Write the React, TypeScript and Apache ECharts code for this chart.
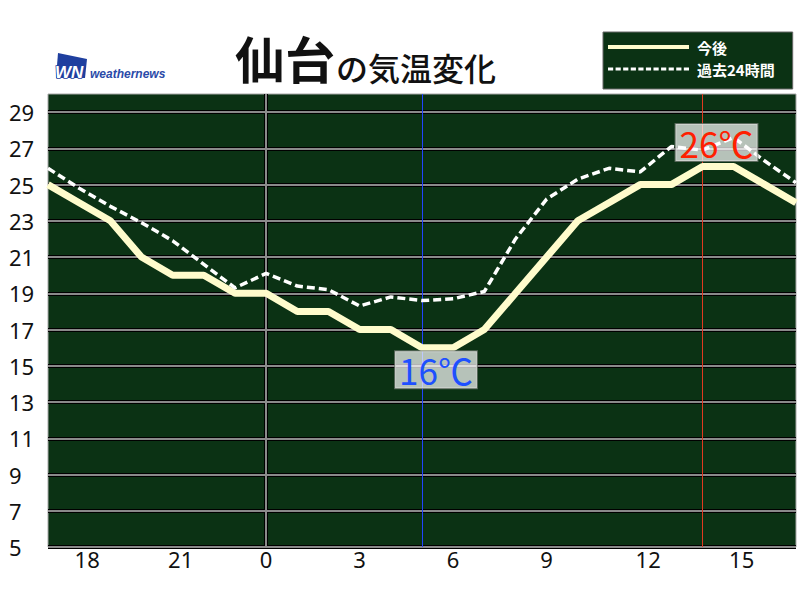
import React, { useEffect, useRef } from 'react';
import * as echarts from 'echarts';

// ---- data ----
const hours = ['17', '18', '19', '20', '21', '22', '23', '0', '1', '2', '3', '4', '5', '6', '7', '8', '9', '10', '11', '12', '13', '14', '15', '16', '17'];
const forecast = [25, 24, 23, 21, 20, 20, 19, 19, 18, 18, 17, 17, 16, 16, 17, 19, 21, 23, 24, 25, 25, 26, 26, 25, 24];
const past24 = [25.9, 24.8, 23.8, 22.9, 21.9, 20.6, 19.3, 20.1, 19.4, 19.2, 18.3, 18.8, 18.6, 18.7, 19.1, 22.0, 24.2, 25.3, 25.9, 25.7, 27.1, 26.9, 27.6, 26.3, 25.1];
const yTicks = [5, 7, 9, 11, 13, 15, 17, 19, 21, 23, 25, 27, 29];
const xLabelHours = ['18', '21', '0', '3', '6', '9', '12', '15'];
const dayBoundary = '0';
const seriesNames = ['今後', '過去24時間'];
const titleMain = '仙台';
const titleSub = 'の気温変化';
const unit = '℃';

const CJK = '"Noto Sans CJK JP", "Noto Sans", sans-serif';
const LATIN = '"Noto Sans", "DejaVu Sans", sans-serif';
const BG = '#0b3214';
const GRID_LINE = '#8a8a8a';
const SOLID = '#fffccc';
const DASH = '#ffffff';

function dashPath(): string {
  let d = '';
  for (let i = 0; i < 11; i++) {
    const x = i * 7.6;
    d += `M${x},0h5.2v3h-5.2z`;
  }
  return 'path://' + d;
}

export default function App() {
  const ref = useRef<HTMLDivElement>(null);

  useEffect(() => {
    if (!ref.current) return;
    const chart = echarts.init(ref.current, undefined, { renderer: 'svg' });

    const minVal = Math.min(...forecast);
    const maxVal = Math.max(...forecast);
    const minIdx = forecast.indexOf(minVal);
    const maxIdx = forecast.indexOf(maxVal);

    const markLabel = {
      show: true,
      position: 'inside',
      formatter: (p: any) => `${p.value}${unit}`,
      fontSize: 35,
      lineHeight: 35,
      fontFamily: CJK,
      backgroundColor: 'rgba(255,255,255,0.7)',
      borderColor: 'rgba(110,120,110,0.8)',
      borderWidth: 1,
      padding: [1, 4, 1, 4],
    };

    const yAxisBase = {
      type: 'value',
      min: 5,
      max: 30,
      axisLine: { show: false },
      axisTick: { show: false, customValues: yTicks },
    };

    const option: any = {
      animation: false,
      backgroundColor: '#ffffff',
      grid: {
        left: 48,
        right: 4,
        top: 94,
        bottom: 53,
        show: true,
        backgroundColor: BG,
        borderColor: '#a8a8a8',
        borderWidth: 1,
        containLabel: false,
      },
      legend: {
        left: 603,
        top: 32,
        orient: 'vertical',
        selectedMode: false,
        backgroundColor: BG,
        borderColor: '#666',
        borderWidth: 1,
        padding: [7, 18, 12, 5],
        itemWidth: 81,
        itemHeight: 16,
        itemGap: 6,
        textStyle: {
          color: '#ffffff',
          fontSize: 15,
          lineHeight: 16,
          fontWeight: 'bold',
          fontFamily: CJK,
          padding: [0, 0, 0, 3],
        },
        data: [
          { name: seriesNames[0], icon: 'path://M0,0h81v4h-81z', itemStyle: { color: SOLID, borderWidth: 0 } },
          { name: seriesNames[1], icon: dashPath(), itemStyle: { color: DASH, borderWidth: 0 } },
        ],
      },
      xAxis: [
        {
          type: 'category',
          data: hours,
          boundaryGap: false,
          z: 1,
          axisLine: { show: false },
          axisTick: { show: false },
          axisLabel: {
            interval: (_i: number, v: string) => xLabelHours.includes(v),
            margin: 1,
            formatter: (v: string) => (v.length > 1 ? `{s|\u00a0}{v|${v}}` : `{v|${v}}`),
            rich: {
              s: { width: 16, fontSize: 22 },
              v: { fontSize: 22, color: '#111', fontFamily: LATIN },
            },
          },
          splitLine: {
            show: true,
            interval: (_i: number, v: string) => v === dayBoundary,
            lineStyle: { color: GRID_LINE, width: 2 },
          },
        },
        {
          type: 'category',
          data: hours,
          boundaryGap: false,
          position: 'bottom',
          z: 0,
          axisLine: { show: false },
          axisTick: { show: false },
          axisLabel: { show: false },
          splitLine: {
            show: true,
            interval: (_i: number, v: string) => v === dayBoundary,
            lineStyle: { color: '#000000', width: 4 },
          },
        },
      ],
      yAxis: [
        {
          ...yAxisBase,
          z: 1,
          axisLabel: {
            customValues: yTicks,
            align: 'left',
            margin: 39,
            fontSize: 22,
            color: '#111',
            fontFamily: LATIN,
          },
          splitLine: { show: true, lineStyle: { color: GRID_LINE, width: 2 } },
        },
        {
          ...yAxisBase,
          z: 0,
          position: 'left',
          axisLabel: { show: false },
          splitLine: { show: true, lineStyle: { color: '#000000', width: 4 } },
        },
      ],
      series: [
        {
          name: seriesNames[0],
          type: 'line',
          data: forecast,
          xAxisIndex: 0,
          yAxisIndex: 0,
          symbol: 'none',
          color: SOLID,
          itemStyle: { color: SOLID },
          lineStyle: { color: SOLID, width: 7 },
          emphasis: { disabled: true },
          markLine: {
            silent: true,
            symbol: ['none', 'none'],
            z: 1,
            label: { show: false },
            emphasis: { disabled: true },
            data: [
              { xAxis: minIdx, lineStyle: { color: '#2244ff', width: 1, type: 'solid' } },
              { xAxis: maxIdx, lineStyle: { color: '#e03a20', width: 1, type: 'solid' } },
            ],
          },
          markPoint: {
            silent: true,
            symbol: 'circle',
            symbolSize: 0,
            data: [
              { coord: [minIdx, minVal], value: minVal, label: { ...markLabel, color: '#1e50ff', offset: [14, 22] } },
              { coord: [maxIdx, maxVal], value: maxVal, label: { ...markLabel, color: '#ff2000', offset: [14, -24] } },
            ],
          },
        },
        {
          name: seriesNames[1],
          type: 'line',
          data: past24,
          xAxisIndex: 0,
          yAxisIndex: 0,
          symbol: 'none',
          color: DASH,
          itemStyle: { color: DASH },
          lineStyle: { color: DASH, width: 3.5, type: [8, 4] },
          emphasis: { disabled: true },
        },
      ],
      graphic: [
        {
          type: 'polygon',
          shape: { points: [[58, 53], [87, 59], [85, 78], [56, 78]] },
          style: { fill: '#1f3f9f' },
        },
        {
          type: 'text',
          x: 55,
          y: 72,
          style: {
            text: 'WN',
            fontSize: 17,
            fontStyle: 'italic',
            fontWeight: 'bold',
            fontFamily: '"Liberation Sans", sans-serif',
            fill: '#ffffff',
            stroke: '#1f3f9f',
            lineWidth: 1.5,
            verticalAlign: 'middle',
            align: 'left',
          },
        },
        {
          type: 'text',
          x: 90,
          y: 74,
          style: {
            text: 'weathernews',
            fontSize: 12,
            fontStyle: 'italic',
            fontWeight: 'bold',
            fontFamily: '"Liberation Sans", sans-serif',
            fill: '#2a4aa8',
            verticalAlign: 'middle',
            align: 'left',
          },
        },
        {
          type: 'text',
          x: 235,
          y: 57,
          style: {
            text: titleMain,
            fontSize: 50,
            fontWeight: 'bold',
            fontFamily: CJK,
            fill: '#111111',
            verticalAlign: 'middle',
            align: 'left',
          },
        },
        {
          type: 'text',
          x: 336,
          y: 67,
          style: {
            text: titleSub,
            fontSize: 32,
            fontWeight: 500,
            fontFamily: CJK,
            fill: '#111111',
            verticalAlign: 'middle',
            align: 'left',
          },
        },
      ],
    };

    chart.setOption(option);
    return () => chart.dispose();
  }, []);

  return (
    <div
      ref={ref}
      style={{ position: 'fixed', left: 0, top: 0, width: 800, height: 600, background: '#ffffff' }}
    />
  );
}
